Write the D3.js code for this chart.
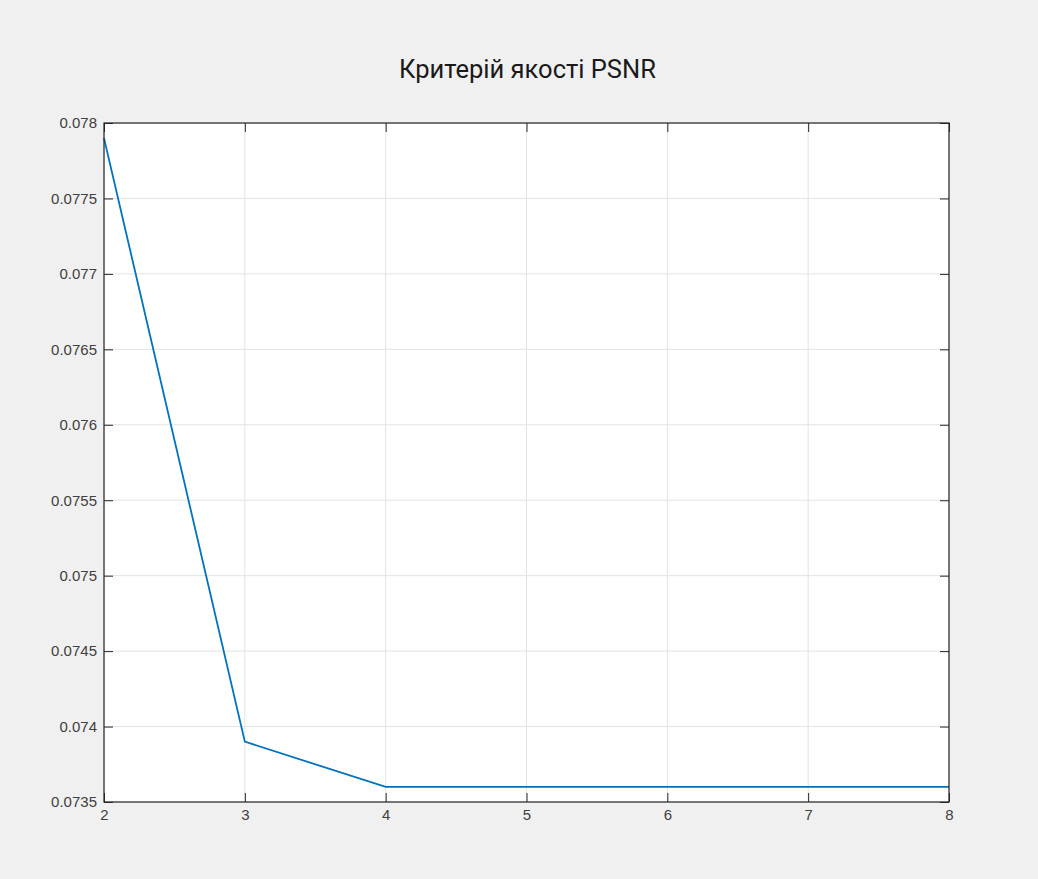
<!DOCTYPE html>
<html>
<head>
<meta charset="utf-8">
<script src="https://cdn.jsdelivr.net/npm/d3@7"></script>
<style>
  body { margin: 0; background: #f0f0f0; }
  svg { display: block; }
  .tick text { font-family: "Liberation Sans", Arial, sans-serif; font-size: 15px; fill: #404040; }
  .title { font-family: Roboto, sans-serif; font-size: 25.5px; fill: #1a1a1a; }
</style>
</head>
<body>
<svg width="1038" height="879"></svg>
<script>
// дані графіка
const xValues = [2, 3, 4, 5, 6, 7, 8];
const psnrValues = [0.07790, 0.07390, 0.07360, 0.07360, 0.07360, 0.07360, 0.07360];
const xTicks = [2, 3, 4, 5, 6, 7, 8];
const yTicks = [0.0735, 0.074, 0.0745, 0.075, 0.0755, 0.076, 0.0765, 0.077, 0.0775, 0.078];
const yTickLabels = ["0.0735", "0.074", "0.0745", "0.075", "0.0755", "0.076", "0.0765", "0.077", "0.0775", "0.078"];
const chartTitle = "Критерій якості PSNR";

const svg = d3.select("svg");
const margin = { top: 123, right: 89, bottom: 77, left: 104 };
const width = 1038, height = 879;
const innerWidth = width - margin.left - margin.right;
const innerHeight = height - margin.top - margin.bottom;

const x = d3.scaleLinear().domain([2, 8]).range([0, innerWidth]);
const y = d3.scaleLinear().domain([0.0735, 0.078]).range([innerHeight, 0]);

const g = svg.append("g").attr("transform", `translate(${margin.left},${margin.top})`);

// біле поле
g.append("rect")
  .attr("width", innerWidth)
  .attr("height", innerHeight)
  .attr("fill", "#fff");

// сітка
g.append("g")
  .selectAll("line")
  .data(xTicks)
  .join("line")
  .attr("x1", d => x(d)).attr("x2", d => x(d))
  .attr("y1", 0).attr("y2", innerHeight)
  .attr("stroke", "#e3e3e3").attr("stroke-width", 1);

g.append("g")
  .selectAll("line")
  .data(yTicks)
  .join("line")
  .attr("x1", 0).attr("x2", innerWidth)
  .attr("y1", d => y(d)).attr("y2", d => y(d))
  .attr("stroke", "#e3e3e3").attr("stroke-width", 1);

// лінія
const line = d3.line()
  .x((d, i) => x(xValues[i]))
  .y(d => y(d));

g.append("path")
  .datum(psnrValues)
  .attr("fill", "none")
  .attr("stroke", "#0072bd")
  .attr("stroke-width", 1.8)
  .attr("d", line);

// осі (тики всередину)
const axisColor = "#262626";
const xAxis = g.append("g")
  .attr("transform", `translate(0,${innerHeight})`)
  .call(d3.axisBottom(x).tickValues(xTicks).tickSize(-9).tickPadding(9).tickSizeOuter(0).tickFormat(d3.format("d")));
xAxis.selectAll(".tick text").attr("dy", "0.71em").attr("y", 7);

g.append("g")
  .call(d3.axisLeft(y).tickValues(yTicks).tickSize(-9).tickPadding(7).tickSizeOuter(0)
    .tickFormat((d, i) => yTickLabels[i]));

// тики праворуч і зверху без підписів
const rightAxis = g.append("g")
  .attr("transform", `translate(${innerWidth},0)`)
  .call(d3.axisRight(y).tickValues(yTicks).tickSize(-9).tickSizeOuter(0));
rightAxis.selectAll("text").remove();

const topAxis = g.append("g")
  .call(d3.axisTop(x).tickValues(xTicks).tickSize(-9).tickSizeOuter(0));
topAxis.selectAll("text").remove();

g.selectAll(".domain").remove();
g.selectAll(".tick line").attr("stroke", axisColor);

// рамка
g.append("rect")
  .attr("width", innerWidth)
  .attr("height", innerHeight)
  .attr("fill", "none")
  .attr("stroke", axisColor)
  .attr("stroke-width", 1.2);

// заголовок
svg.append("text")
  .attr("class", "title")
  .attr("x", margin.left + innerWidth / 2 + 1)
  .attr("y", 78)
  .attr("text-anchor", "middle")
  .text(chartTitle);
</script>
</body>
</html>
